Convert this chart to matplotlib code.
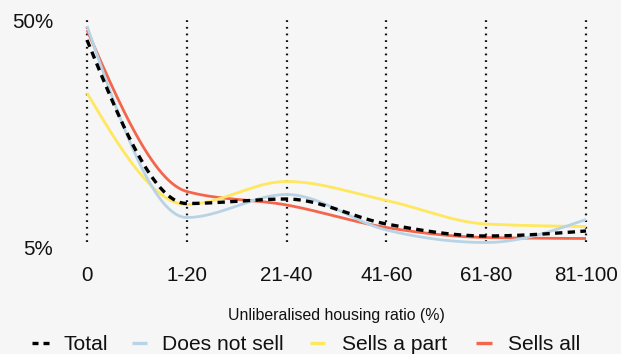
import numpy as np
import matplotlib
matplotlib.use("Agg")
import matplotlib.pyplot as plt
from matplotlib.lines import Line2D

plt.rcParams["font.family"] = ["Liberation Sans", "DejaVu Sans"]

# Share of households (%) by unliberalised housing ratio
categories = ["0", "1-20", "21-40", "41-60", "61-80", "81-100"]
total = [46.4, 13.7, 14.6, 9.6, 7.2, 8.2]
does_not_sell = [49.2, 10.9, 15.5, 8.4, 5.9, 10.5]
sells_a_part = [35.8, 13.5, 18.1, 14.3, 9.6, 9.1]
sells_all = [48.4, 16.1, 13.4, 8.9, 6.9, 6.7]

series = [
    ("Sells all", sells_all, "#f4664c", "-"),
    ("Sells a part", sells_a_part, "#ffe75e", "-"),
    ("Does not sell", does_not_sell, "#b8d3e5", "-"),
    ("Total", total, "#000000", "--"),
]
legend_order = ["Total", "Does not sell", "Sells a part", "Sells all"]


def monotone_curve(y, samples=60):
    """Monotone cubic (Steffen) interpolation through equally spaced points."""
    y = np.asarray(y, dtype=float)
    n = len(y)
    s = np.diff(y)  # secant slopes, h = 1
    m = np.zeros(n)
    for i in range(1, n - 1):
        s0, s1 = s[i - 1], s[i]
        p = (s0 + s1) / 2.0
        m[i] = (np.sign(s0) + np.sign(s1)) * min(abs(s0), abs(s1), 0.5 * abs(p))
    m[0] = (3 * s[0] - m[1]) / 2.0
    m[-1] = (3 * s[-1] - m[-2]) / 2.0
    xs, ys = [], []
    for i in range(n - 1):
        t = np.linspace(0, 1, samples, endpoint=(i == n - 2))
        h00 = 2 * t**3 - 3 * t**2 + 1
        h10 = t**3 - 2 * t**2 + t
        h01 = -2 * t**3 + 3 * t**2
        h11 = t**3 - t**2
        xs.append(i + t)
        ys.append(h00 * y[i] + h10 * m[i] + h01 * y[i + 1] + h11 * m[i + 1])
    return np.concatenate(xs), np.concatenate(ys)


W, H = 621, 354
fig = plt.figure(figsize=(W / 100, H / 100), dpi=100)
bg = "#f6f6f6"
fig.patch.set_facecolor(bg)
txt = "#111111"

left, right, top, bottom = 87, 586, 22, 247
ax = fig.add_axes([left / W, 1 - bottom / H, (right - left) / W, (bottom - top) / H])
ax.set_facecolor(bg)
ax.set_xlim(0, len(categories) - 1)
ax.set_ylim(5, 50)
for sp in ax.spines.values():
    sp.set_visible(False)

x = np.arange(len(categories))
# dotted vertical guides
ax.vlines(x, 6.0, 50.4, colors="#111111", linestyles=(0, (0.8, 2.2)),
          linewidth=1.6, clip_on=False, zorder=1)

for name, vals, color, ls in series:
    xs, ys = monotone_curve(vals)
    if ls == "--":
        ax.plot(xs, ys, color=color, linewidth=2.4, linestyle=(0, (2.2, 1.6)),
                clip_on=False, zorder=5, dash_capstyle="butt")
    else:
        ax.plot(xs, ys, color=color, linewidth=2.0, clip_on=False, zorder=3,
                solid_capstyle="butt")

ax.set_xticks(x)
ax.set_xticklabels(categories, fontsize=14.8, color=txt)
ax.tick_params(axis="x", length=0, pad=14)
ax.set_yticks([])

# y-axis end labels
ytrans = matplotlib.transforms.blended_transform_factory(fig.transFigure, ax.transData)
for val, dy in [(50, 0.5), (5, 2.5)]:
    t = ax.text(53 / W, val, f"{val}%", ha="right", va="center",
                fontsize=14.8, color=txt)
    t.set_transform(ytrans + matplotlib.transforms.ScaledTranslation(0, -dy / 100, fig.dpi_scale_trans))

fig.text(336.5 / W, 1 - 315.5 / H, "Unliberalised housing ratio (%)",
         ha="center", va="center", fontsize=11.4, color=txt)

# legend row
style = {name: (color, ls) for name, _, color, ls in series}
marker_x = [(32, 49), (132, 147), (310, 325), (476, 492)]
text_x = [63, 162, 342, 508]
ly = 1 - 343 / H
for name, (m0, m1), tx in zip(legend_order, marker_x, text_x):
    color, ls = style[name]
    if ls == "--":
        fig.add_artist(Line2D([m0 / W, m1 / W], [ly, ly], color=color,
                              linewidth=2.4, linestyle=(0, (1.8, 1.5)),
                              dash_capstyle="butt", transform=fig.transFigure))
    else:
        fig.add_artist(Line2D([m0 / W, m1 / W], [ly, ly], color=color,
                              linewidth=2.4, solid_capstyle="butt",
                              transform=fig.transFigure))
    fig.text(tx / W, 1 - 344.5 / H, name, ha="left", va="center",
             fontsize=15.1, color=txt)

fig.savefig("out.png", dpi=100, facecolor=bg)
